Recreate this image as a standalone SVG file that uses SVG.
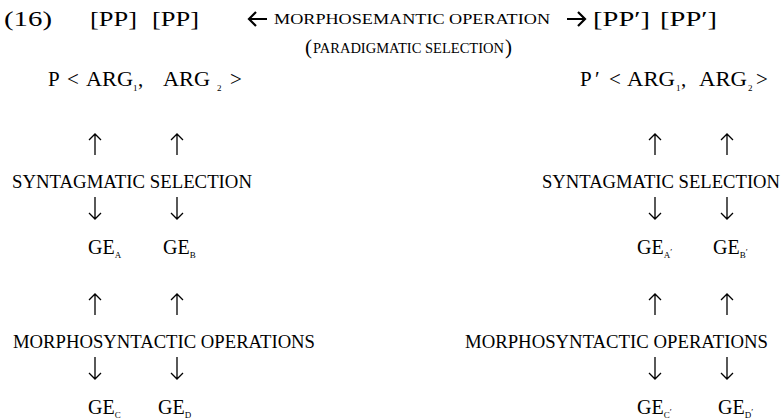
<svg xmlns="http://www.w3.org/2000/svg" width="783" height="420" viewBox="0 0 783 420">
<style>
text{font-family:"Liberation Serif","Times New Roman",serif;fill:#000}
.h{font-size:22px}
.sc{font-size:14.5px}
.p{font-size:21px}
.b{font-size:18.5px}
.g{font-size:20px}
.s{font-size:9px}
.arr{stroke:#000;stroke-width:1.3;fill:none}
.big{stroke:#000;stroke-width:2.2;fill:none}
</style>
<rect width="783" height="420" fill="#fff"/>
<g id="header">
<text class="h" x="4" y="26" textLength="48" lengthAdjust="spacingAndGlyphs">(16)</text>
<text class="h" x="90" y="26" textLength="47" lengthAdjust="spacingAndGlyphs">[PP]</text>
<text class="h" x="152" y="26" textLength="47" lengthAdjust="spacingAndGlyphs">[PP]</text>
<text class="sc" x="274" y="24" textLength="276" lengthAdjust="spacingAndGlyphs">MORPHOSEMANTIC OPERATION</text>
<text class="h" x="593" y="26" textLength="57" lengthAdjust="spacingAndGlyphs">[PP′]</text>
<text class="h" x="660" y="26" textLength="57" lengthAdjust="spacingAndGlyphs">[PP′]</text>
</g>
<g id="paradigmatic">
<text class="p" x="305" y="54">(</text>
<text class="sc" x="313" y="53" textLength="191" lengthAdjust="spacingAndGlyphs">PARADIGMATIC SELECTION</text>
<text class="p" x="505" y="54">)</text>
</g>
<g id="pred-left">
<text class="p" x="48" y="86">P</text>
<text class="p" x="67" y="86">&lt;</text>
<text class="p" x="86" y="86" textLength="47" lengthAdjust="spacingAndGlyphs">ARG</text>
<text class="s" x="133" y="91">1</text>
<text class="p" x="138" y="86">,</text>
<text class="p" x="163" y="86" textLength="47" lengthAdjust="spacingAndGlyphs">ARG</text>
<text class="s" x="217" y="91">2</text>
<text class="p" x="230" y="86">&gt;</text>
</g>
<g id="pred-right">
<text class="p" x="580" y="86">P</text>
<text class="p" x="595" y="86">′</text>
<text class="p" x="609" y="86">&lt;</text>
<text class="p" x="627" y="86" textLength="48" lengthAdjust="spacingAndGlyphs">ARG</text>
<text class="s" x="676" y="91">1</text>
<text class="p" x="681" y="86">,</text>
<text class="p" x="699" y="86" textLength="48" lengthAdjust="spacingAndGlyphs">ARG</text>
<text class="s" x="748" y="91">2</text>
<text class="p" x="756" y="86">&gt;</text>
</g>
<g id="synt-left"><text class="b" x="12" y="188" textLength="240" lengthAdjust="spacingAndGlyphs">SYNTAGMATIC SELECTION</text></g>
<g id="synt-right"><text class="b" x="542" y="188" textLength="238" lengthAdjust="spacingAndGlyphs">SYNTAGMATIC SELECTION</text></g>
<g id="morph-left"><text class="b" x="13" y="348" textLength="302" lengthAdjust="spacingAndGlyphs">MORPHOSYNTACTIC OPERATIONS</text></g>
<g id="morph-right"><text class="b" x="465" y="348" textLength="303" lengthAdjust="spacingAndGlyphs">MORPHOSYNTACTIC OPERATIONS</text></g>
<g id="ge-a"><text class="g" x="88" y="254">GE<tspan class="s" dy="4">A</tspan></text></g>
<g id="ge-b"><text class="g" x="163" y="254">GE<tspan class="s" dy="4">B</tspan></text></g>
<g id="ge-c"><text class="g" x="88" y="414">GE<tspan class="s" dy="4">C</tspan></text></g>
<g id="ge-d"><text class="g" x="158" y="414">GE<tspan class="s" dy="4">D</tspan></text></g>
<g id="ge-a2"><text class="g" x="637" y="254">GE<tspan class="s" dy="4">A</tspan><tspan class="s" dy="-3">′</tspan></text></g>
<g id="ge-b2"><text class="g" x="713" y="254">GE<tspan class="s" dy="4">B</tspan><tspan class="s" dy="-3">′</tspan></text></g>
<g id="ge-c2"><text class="g" x="637" y="414">GE<tspan class="s" dy="4">C</tspan><tspan class="s" dy="-3">′</tspan></text></g>
<g id="ge-d2"><text class="g" x="718" y="414">GE<tspan class="s" dy="4">D</tspan><tspan class="s" dy="-3">′</tspan></text></g>
<g id="connectors">
<path class="big" d="M249 19H267M256 12L249 19L256 26"/>
<path class="big" d="M567 19H585M578 12L585 19L578 26"/>
<path class="arr" d="M95 155V134M89 140L95 134L101 140M177 155V134M171 140L177 134L183 140"/>
<path class="arr" d="M95 197V219M89 213L95 219L101 213M177 197V219M171 213L177 219L183 213"/>
<path class="arr" d="M95 315V294M89 300L95 294L101 300M177 315V294M171 300L177 294L183 300"/>
<path class="arr" d="M95 357V379M89 373L95 379L101 373M177 357V379M171 373L177 379L183 373"/>
<path class="arr" d="M655 155V134M649 140L655 134L661 140M727 155V134M721 140L727 134L733 140"/>
<path class="arr" d="M655 197V219M649 213L655 219L661 213M727 197V219M721 213L727 219L733 213"/>
<path class="arr" d="M655 315V294M649 300L655 294L661 300M727 315V294M721 300L727 294L733 300"/>
<path class="arr" d="M655 357V379M649 373L655 379L661 373M727 357V379M721 373L727 379L733 373"/>
</g>
</svg>
